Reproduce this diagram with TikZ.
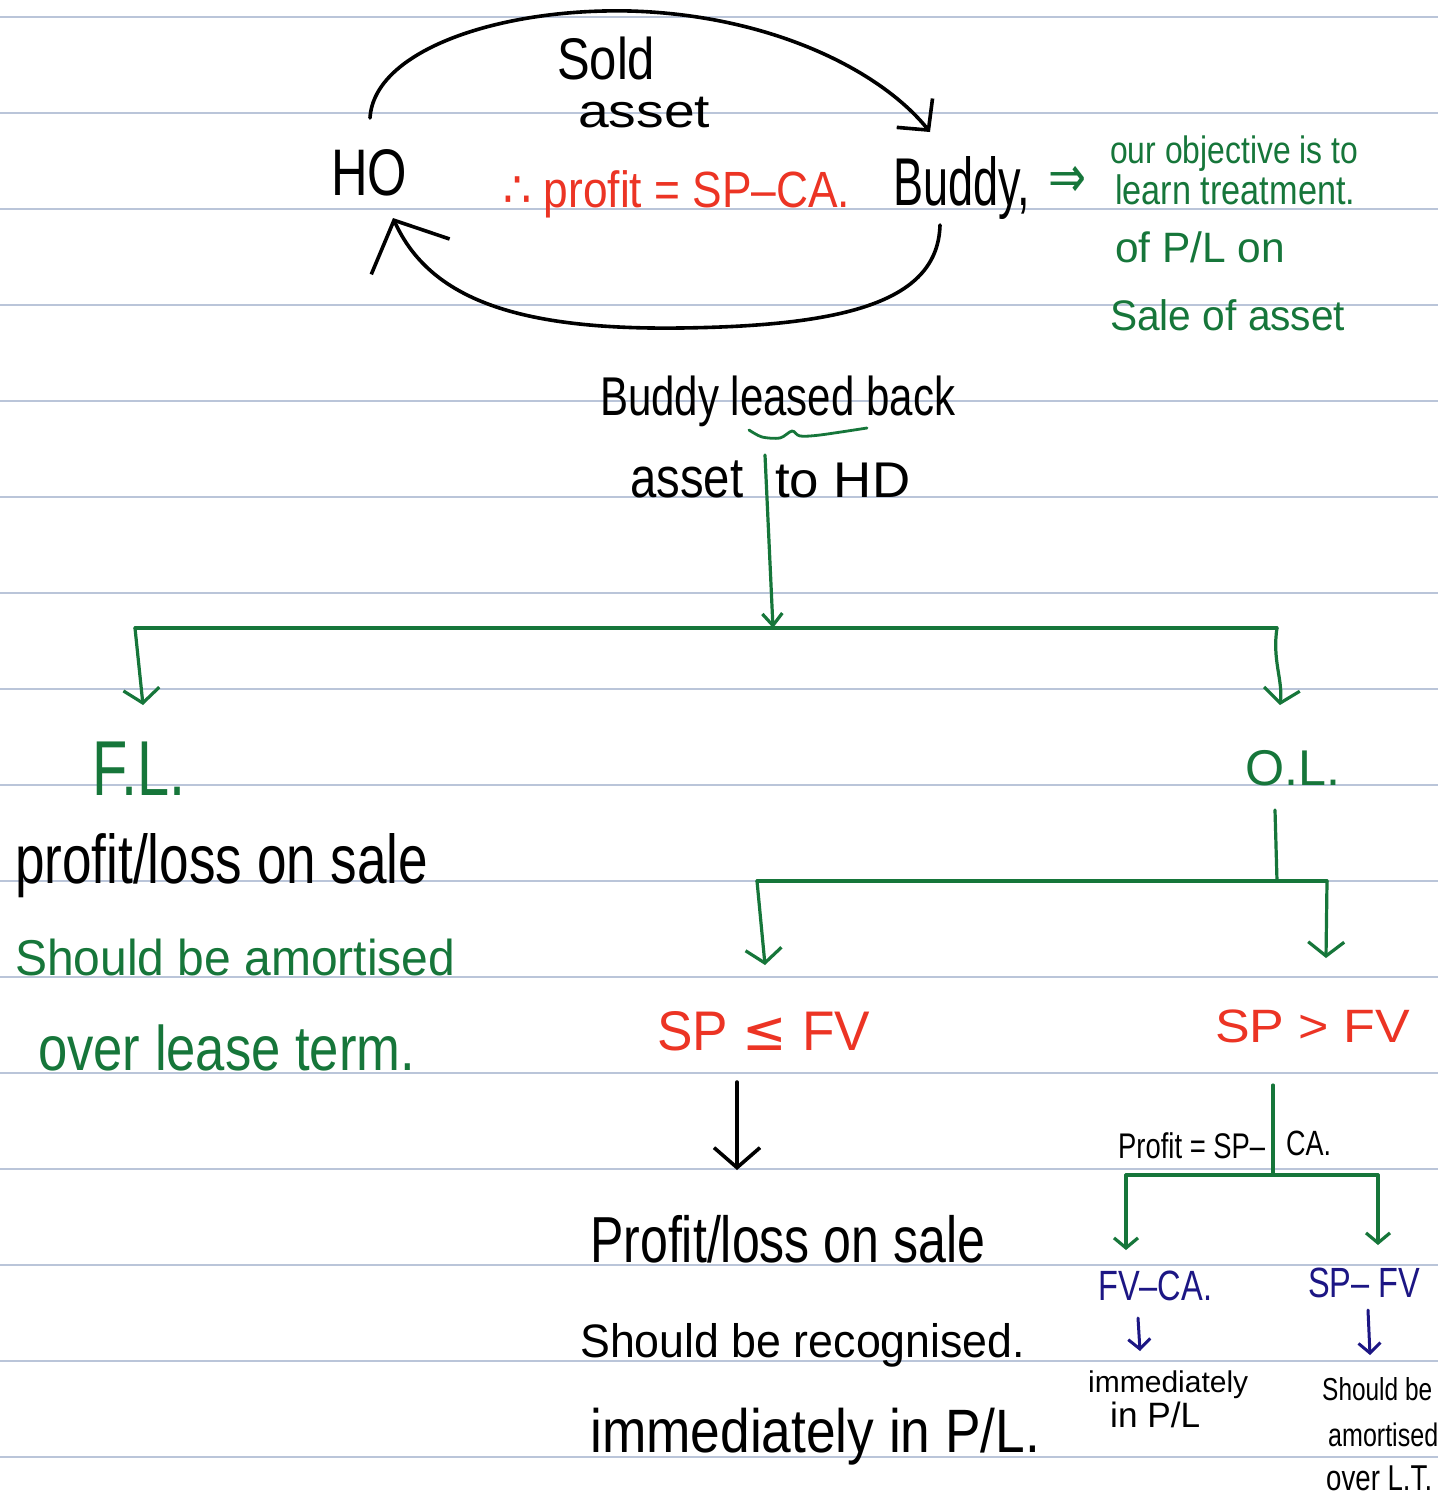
\documentclass[tikz,border=0pt]{standalone}
\usepackage{fontspec}
\setmainfont{Liberation Sans}
\newfontfamily\symf{DejaVu Sans}
\usepackage{graphicx}
\usetikzlibrary{arrows.meta,calc}
\definecolor{gcol}{RGB}{22,118,58}
\definecolor{rcol}{RGB}{236,52,36}
\definecolor{bcol}{RGB}{28,22,132}
\definecolor{rule}{RGB}{186,197,217}
\newcommand\tw[3][1.3]{\resizebox{#2pt}{!}{\scalebox{1}[#1]{#3}}}
\begin{document}
\begin{tikzpicture}[x=1pt,y=-1pt,
  hw/.style={inner sep=0pt,anchor=base west,font=\fontsize{40}{44}\selectfont},
  gline/.style={draw=gcol,line width=3.2pt,line cap=round,line join=round},
  garr/.style={gline,-{Straight Barb[length=14pt,width=36pt]}},
  barr/.style={draw=bcol,line width=3pt,line cap=round,-{Straight Barb[length=10pt,width=22pt]}},
  karr/.style={draw=black,line width=3.6pt,line cap=round}]
\useasboundingbox (0,0) rectangle (1438,1500);
\fill[white] (0,0) rectangle (1438,1500);
\foreach \k in {0,...,15} \draw[rule,line width=1.5pt] (0,17+96*\k) -- (1438,17+96*\k);

% top part
\node[hw] (HO) at (331,195) {\tw{76}{HO}};
\node[hw] (sold) at (557,79) {\tw[1.2]{98}{Sold}};
\node[hw] (asset1) at (578,127) {\tw[0.85]{132}{asset}};
\node[hw,text=rcol] (prof) at (503,207) {\tw[1.15]{347}{{\symf ∴} profit = SP–CA.}};
\node[hw] (buddy) at (893,205) {\tw[1.5]{137}{Buddy,}};
\node[hw,text=gcol] (impl) at (1048,197) {\tw{38}{\symf ⇒}};
\node[hw,text=gcol] (g1) at (1110,163) {\tw[1.2]{248}{our objective is to}};
\node[hw,text=gcol] (g2) at (1115,204) {\tw[1.2]{240}{learn treatment.}};
\node[hw,text=gcol] (g3) at (1115,262) {\tw[1.0]{170}{of P/L on}};
\node[hw,text=gcol] (g4) at (1110,330) {\tw[1.05]{235}{Sale of asset}};

\draw[karr,-{Straight Barb[length=22pt,width=46pt]}] ($(HO.base west)+(39,-77)$) .. controls (374,50) and (500,8) .. (630,11) .. controls (770,15) and (880,70) .. ($(buddy.base west)+(37,-73)$);
\draw[karr,-{Straight Barb[length=40pt,width=86pt]}] ($(buddy.base west)+(47,20)$) .. controls (938,300) and (850,326) .. (680,328) .. controls (520,330) and (430,300) .. ($(HO.base west)+(62,23)$);

% middle
\node[hw] (bl) at (600,415) {\tw{355}{Buddy leased back}};
\node[hw] (asset2) at (630,497) {\tw[1.2]{113}{asset}};
\node[hw] (tohd) at (775,497) {\tw[0.95]{135}{to HD}};
\draw[gcol,line width=2.8pt,line cap=round] plot[smooth] coordinates {(749,430) (762,437) (780,438) (792,431) (800,436) (820,435) (867,428)};
\coordinate (j1) at (773,628);
\draw[garr,-{Straight Barb[length=12pt,width=20pt]}] ($(asset2.base west)+(135,-42)$) -- (j1);
\coordinate (jl) at (135,628);
\coordinate (jr) at (1277,628);
\draw[gline] (jl) -- (jr);

\node[hw,text=gcol] (FL) at (92,795) {\tw[1.35]{93}{F.L.}};
\node[hw,text=gcol] (OL) at (1245,785) {\tw[1.0]{95}{O.L.}};
\draw[garr] (jl) -- ($(FL.base west)+(51,-90)$);
\draw[garr] (jr) .. controls (1272,660) and (1283,680) .. ($(OL.base west)+(35,-80)$);

\node[hw] (pl1) at (15,883) {\tw{413}{profit/loss on sale}};
\node[hw,text=gcol] (sb1) at (15,975) {\tw[1.05]{440}{Should be amortised}};
\node[hw,text=gcol] (ol1) at (38,1070) {\tw[1.2]{377}{over lease term.}};

\coordinate (j2) at (1277,881);
\draw[gline] ($(OL.base west)+(30,25)$) -- (j2);
\coordinate (j2l) at (757,881);
\coordinate (j2r) at (1327,881);
\draw[gline] (j2l) -- (j2r);

\node[hw,text=rcol] (le) at (657,1050) {\tw[1.05]{213}{SP {\symf ≤} FV}};
\node[hw,text=rcol] (gt) at (1215,1042) {\tw[0.9]{195}{SP > FV}};
\draw[garr] (j2l) -- ($(le.base west)+(108,-85)$);
\draw[garr] (j2r) -- ($(gt.base west)+(111,-84)$);

% bottom left
\node[hw] (pl2) at (590,1262) {\tw{395}{Profit/loss on sale}};
\node[hw] (sb2) at (580,1357) {\tw[1.05]{445}{Should be recognised.}};
\node[hw] (im2) at (590,1452) {\tw[1.15]{450}{immediately in P/L.}};
\draw[karr,-{Straight Barb[length=20pt,width=46pt]}] ($(le.base west)+(80,32)$) -- ($(pl2.base west)+(147,-92)$);

% bottom right
\node[hw] (pe) at (1118,1158) {\tw{147}{Profit = SP–}};
\node[hw] (ca) at (1286,1155) {\tw{45}{CA.}};
\coordinate (j3) at (1273,1175);
\draw[gline] ($(gt.base west)+(58,43)$) -- (j3);
\coordinate (j3l) at (1126,1175);
\coordinate (j3r) at (1378,1175);
\draw[gline] (j3l) -- (j3r);
\node[hw,text=bcol] (fvca) at (1098,1300) {\tw{114}{FV–CA.}};
\node[hw,text=bcol] (spfv) at (1308,1297) {\tw{112}{SP– FV}};
\draw[garr,-{Straight Barb[length=10pt,width=24pt]}] (j3l) -- ($(fvca.base west)+(28,-50)$);
\draw[garr,-{Straight Barb[length=10pt,width=24pt]}] (j3r) -- ($(spfv.base west)+(70,-52)$);

\node[hw] (imm) at (1088,1392) {\tw[1.0]{160}{immediately}};
\node[hw] (inpl) at (1110,1427) {\tw[1.0]{90}{in P/L}};
\node[hw] (sb3) at (1322,1400) {\tw{110}{Should be}};
\node[hw] (am3) at (1328,1446) {\tw{110}{amortised}};
\node[hw] (ov3) at (1326,1490) {\tw{106}{over L.T.}};
\draw[barr] ($(fvca.base west)+(40,18)$) -- ($(imm.base west)+(52,-41)$);
\draw[barr] ($(spfv.base west)+(60,13)$) -- ($(sb3.base west)+(48,-45)$);
\end{tikzpicture}
\end{document}
